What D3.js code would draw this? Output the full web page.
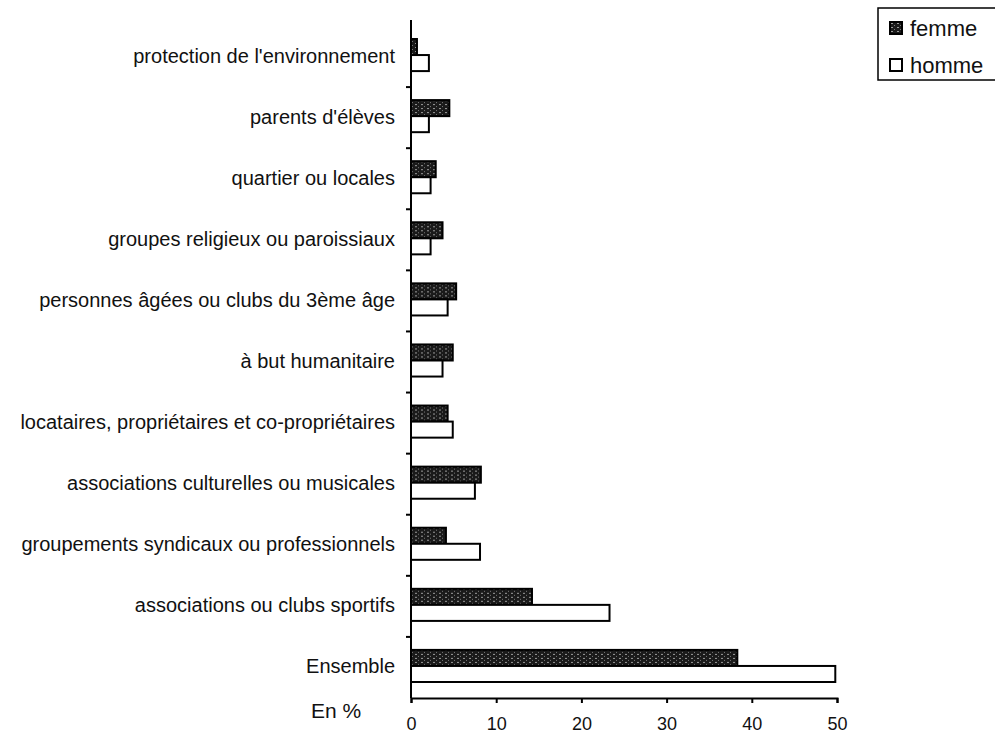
<!DOCTYPE html>
<html>
<head>
<meta charset="utf-8">
<script src="https://cdn.jsdelivr.net/npm/d3@7"></script>
<style>
body { margin: 0; background: #fff; }
svg { font-family: "Liberation Sans", Arial, sans-serif; }
</style>
</head>
<body>
<svg id="chart" width="995" height="737"></svg>
<script>
var categories = [
    "protection de l'environnement",
    "parents d'élèves",
    "quartier ou locales",
    "groupes religieux ou paroissiaux",
    "personnes âgées ou clubs du 3ème âge",
    "à but humanitaire",
    "locataires, propriétaires et co-propriétaires",
    "associations culturelles ou musicales",
    "groupements syndicaux ou professionnels",
    "associations ou clubs sportifs",
    "Ensemble"
];
var femme = [0.7, 4.5, 2.9, 3.7, 5.3, 4.9, 4.3, 8.2, 4.1, 14.2, 38.3];
var homme = [2.1, 2.1, 2.3, 2.3, 4.3, 3.7, 4.9, 7.5, 8.1, 23.3, 49.8];
var xTicks = [0, 10, 20, 30, 40, 50];
var seriesNames = ["femme", "homme"];

var svg = d3.select("#chart");
var margin = {left: 411, top: 26, bottom: 698, right: 837};

// hatched fill for femme
var defs = svg.append("defs");
var pat = defs.append("pattern")
    .attr("id", "hatch")
    .attr("patternUnits", "userSpaceOnUse")
    .attr("width", 6).attr("height", 4);
pat.append("rect").attr("width", 6).attr("height", 4).attr("fill", "#1a1a1a");
pat.append("rect").attr("x", 1).attr("y", 1).attr("width", 2).attr("height", 1).attr("fill", "#9a9a9a");
pat.append("rect").attr("x", 4).attr("y", 3).attr("width", 1).attr("height", 1).attr("fill", "#777");

var x = d3.scaleLinear().domain([0, 50]).range([margin.left, margin.right]);
var y = d3.scaleBand().domain(categories).range([margin.top, margin.bottom]);
var inner = d3.scaleBand().domain(seriesNames).range([13, y.bandwidth() - 16]);

var groups = svg.selectAll("g.cat")
    .data(categories)
    .enter()
    .append("g")
    .attr("class", "cat")
    .attr("transform", function(d) { return "translate(0," + y(d) + ")"; });

groups.append("rect")
    .attr("x", x(0))
    .attr("y", inner("femme"))
    .attr("width", function(d, i) { return x(femme[i]) - x(0); })
    .attr("height", inner.bandwidth())
    .attr("fill", "url(#hatch)")
    .attr("stroke", "#000")
    .attr("stroke-width", 2);

groups.append("rect")
    .attr("x", x(0))
    .attr("y", inner("homme"))
    .attr("width", function(d, i) { return x(homme[i]) - x(0); })
    .attr("height", inner.bandwidth())
    .attr("fill", "#fff")
    .attr("stroke", "#000")
    .attr("stroke-width", 2);

// category labels
groups.append("text")
    .attr("x", 395)
    .attr("y", y.bandwidth() / 2 + 6)
    .attr("text-anchor", "end")
    .attr("font-size", 20)
    .attr("fill", "#111")
    .text(function(d) { return d; });

// vertical axis
svg.append("line")
    .attr("x1", x(0)).attr("x2", x(0))
    .attr("y1", 20).attr("y2", margin.bottom)
    .attr("stroke", "#000").attr("stroke-width", 2);
svg.selectAll("line.ytick")
    .data(categories.slice(1))
    .enter()
    .append("line")
    .attr("class", "ytick")
    .attr("x1", x(0) - 5).attr("x2", x(0))
    .attr("y1", function(d) { return y(d); })
    .attr("y2", function(d) { return y(d); })
    .attr("stroke", "#000").attr("stroke-width", 2);

// horizontal axis
var xAxis = svg.append("g")
    .attr("transform", "translate(0," + margin.bottom + ")")
    .call(d3.axisBottom(x).tickValues(xTicks).tickSize(5).tickPadding(14));
xAxis.select(".domain").attr("stroke-width", 2);
xAxis.selectAll(".tick line").attr("stroke-width", 2);
xAxis.selectAll(".tick text")
    .attr("font-size", 18)
    .attr("font-family", "\"Liberation Sans\", Arial, sans-serif")
    .attr("fill", "#111");

svg.append("text")
    .attr("x", 311).attr("y", 718)
    .attr("font-size", 21)
    .attr("fill", "#111")
    .text("En %");

// legend
var legend = svg.append("g").attr("transform", "translate(878,8)");
legend.append("rect")
    .attr("x", 0).attr("y", 0)
    .attr("width", 125).attr("height", 72)
    .attr("fill", "#fff").attr("stroke", "#000").attr("stroke-width", 1.5);
var legItems = legend.selectAll("g.item")
    .data(seriesNames)
    .enter()
    .append("g")
    .attr("class", "item")
    .attr("transform", function(d, i) { return "translate(12," + (14 + i * 37) + ")"; });
legItems.append("rect")
    .attr("width", 12).attr("height", 12)
    .attr("fill", function(d) { return d === "femme" ? "url(#hatch)" : "#fff"; })
    .attr("stroke", "#000").attr("stroke-width", 2);
legItems.append("text")
    .attr("x", 20).attr("y", 14)
    .attr("font-size", 22)
    .attr("fill", "#111")
    .text(function(d) { return d; });
</script>
</body>
</html>
